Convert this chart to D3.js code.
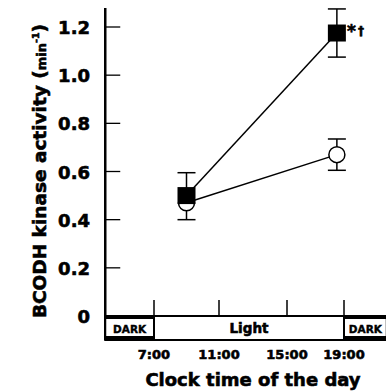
<html>
<head>
	<title>BCODH kinase</title>
	<meta charset="utf-8">
	<script src="https://d3js.org/d3.v7.min.js"></script>
	<style>
		body { margin: 0; background: #fff; }
		text { font-family: "DejaVu Sans", sans-serif; font-weight: bold; fill: #000; stroke: #000; stroke-width: 0.6px; }
	</style>
</head>
<body>
	<script type="text/javascript">
		var width = 386
		var height = 391

		// data
		var hours = [9, 18.5]
		var filled = [0.50, 1.175]
		var filledErr = [0.095, 0.10]
		var open = [0.47, 0.67]
		var openErr = [0.07, 0.065]
		var yTicks = [0, 0.2, 0.4, 0.6, 0.8, 1.0, 1.2]
		var xTicks = [7, 11, 15, 19]
		var xTickLabels = ["7:00", "11:00", "15:00", "19:00"]
		var periods = [
			{label: "DARK", start: 4, end: 7},
			{label: "Light", start: 7, end: 19},
			{label: "DARK", start: 19, end: 22}
		]

		var svg = d3.select("body").append("svg")
			.attr("width", width)
			.attr("height", height)

		var x = d3.scaleLinear().domain([7, 11, 15, 19]).range([154, 219, 287, 344])
		var y = d3.scaleLinear().domain([0, 1.2]).range([316, 27])

		var bandTop = y(0), bandBot = 340

		// y axis line
		svg.append("line")
			.attr("x1", x(4)).attr("x2", x(4))
			.attr("y1", 8).attr("y2", bandBot)
			.attr("stroke", "black").attr("stroke-width", 2.5)

		// y ticks (inward)
		svg.selectAll(".ytick")
			.data(yTicks.filter(d => d > 0))
			.enter().append("line")
			.attr("x1", x(4)).attr("x2", x(4) + 15)
			.attr("y1", d => y(d)).attr("y2", d => y(d))
			.attr("stroke", "black").attr("stroke-width", 1.3)

		svg.selectAll(".ylab")
			.data(yTicks)
			.enter().append("text")
			.attr("x", 90)
			.attr("y", d => y(d) + 7)
			.attr("text-anchor", "end")
			.style("font-size", "18px")
			.text(d => d === 0 ? "0" : d.toFixed(1))

		// x ticks (upward from band)
		svg.selectAll(".xtick")
			.data(xTicks)
			.enter().append("line")
			.attr("x1", d => x(d)).attr("x2", d => x(d))
			.attr("y1", bandTop).attr("y2", bandTop - 16)
			.attr("stroke", "black").attr("stroke-width", 1.5)

		svg.selectAll(".xlab")
			.data(xTicks)
			.enter().append("text")
			.attr("x", d => x(d))
			.attr("y", 359)
			.attr("text-anchor", "middle")
			.style("font-size", "13px")
			.text((d, i) => xTickLabels[i])

		// light/dark band
		var band = svg.selectAll(".period")
			.data(periods)
			.enter().append("g")

		band.append("rect")
			.attr("x", d => x(d.start))
			.attr("y", bandTop)
			.attr("width", d => x(d.end) - x(d.start))
			.attr("height", bandBot - bandTop)
			.attr("fill", "white")
			.attr("stroke", "black")
			.attr("stroke-width", 2)

		band.filter(d => d.label === "DARK").append("rect")
			.attr("x", d => x(d.start))
			.attr("y", bandTop - 1)
			.attr("width", d => x(d.end) - x(d.start))
			.attr("height", 4)
		band.filter(d => d.label === "DARK").append("rect")
			.attr("x", d => x(d.start))
			.attr("y", bandBot - 4)
			.attr("width", d => x(d.end) - x(d.start))
			.attr("height", 5)

		band.append("text")
			.attr("x", d => (x(d.start) + x(d.end)) / 2)
			.attr("y", 333)
			.attr("text-anchor", "middle")
			.style("font-size", d => d.label === "DARK" ? "10.5px" : "13.5px")
			.style("stroke-width", d => d.label === "DARK" ? "0.4px" : "0.6px")
			.text(d => d.label)

		// series lines
		var line = d3.line().x((d, i) => x(hours[i])).y(d => y(d))
		svg.append("path").datum(open).attr("d", line)
			.attr("fill", "none").attr("stroke", "black").attr("stroke-width", 1.5)
		svg.append("path").datum(filled).attr("d", line)
			.attr("fill", "none").attr("stroke", "black").attr("stroke-width", 1.5)

		// error bars
		function errorBars(vals, errs, showUp, showDown) {
			var g = svg.append("g").attr("stroke", "black").attr("stroke-width", 1.5)
			vals.forEach(function(v, i) {
				var cx = x(hours[i])
				var lo = showDown[i] ? v - errs[i] : v
				var hi = showUp[i] ? v + errs[i] : v
				g.append("line").attr("x1", cx).attr("x2", cx).attr("y1", y(lo)).attr("y2", y(hi))
				if (showUp[i]) g.append("line").attr("x1", cx - 9).attr("x2", cx + 9).attr("y1", y(hi)).attr("y2", y(hi))
				if (showDown[i]) g.append("line").attr("x1", cx - 9).attr("x2", cx + 9).attr("y1", y(lo)).attr("y2", y(lo))
			})
		}
		errorBars(open, openErr, [false, true], [true, true])
		errorBars(filled, filledErr, [true, true], [false, true])

		// open circles
		svg.selectAll(".open")
			.data(open)
			.enter().append("circle")
			.attr("cx", (d, i) => x(hours[i]))
			.attr("cy", d => y(d))
			.attr("r", 8)
			.attr("fill", "white")
			.attr("stroke", "black").attr("stroke-width", 1.5)

		// filled squares
		svg.selectAll(".filled")
			.data(filled)
			.enter().append("rect")
			.attr("x", (d, i) => x(hours[i]) - 9)
			.attr("y", d => y(d) - 8.5)
			.attr("width", 18)
			.attr("height", 17)
			.attr("fill", "black")

		svg.append("text")
			.attr("x", x(hours[1]) + 10)
			.attr("y", y(filled[1]) + 4)
			.style("font-size", "17px")
			.text("*")
		svg.append("text")
			.attr("x", x(hours[1]) + 21)
			.attr("y", y(filled[1]) + 2)
			.style("font-size", "12px")
			.text("†")

		// axis titles
		svg.append("text")
			.attr("x", 253)
			.attr("y", 386)
			.attr("text-anchor", "middle")
			.style("font-size", "18px")
			.text("Clock time of the day")

		var yt = svg.append("text")
			.attr("transform", "translate(46,171) rotate(-90)")
			.attr("text-anchor", "middle")
			.style("font-size", "18.5px")
		yt.append("tspan").text("BCODH kinase activity (")
		yt.append("tspan").style("font-size", "13px").text("min")
		yt.append("tspan").style("font-size", "9.5px").attr("dy", -7).text("-1")
		yt.append("tspan").attr("dy", 7).text(")")
	</script>
</body>
</html>
